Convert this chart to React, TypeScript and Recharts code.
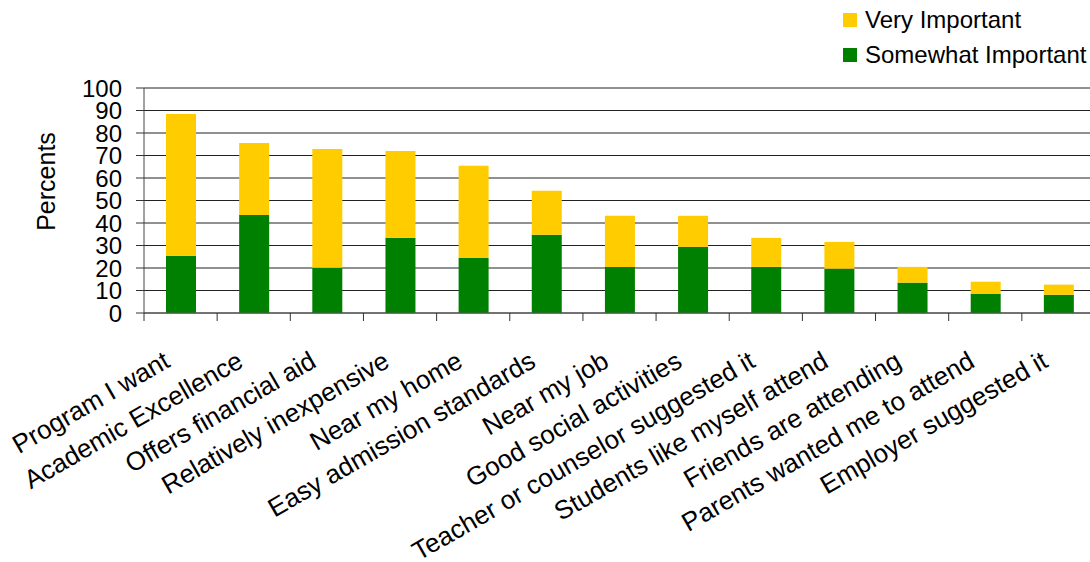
import React from 'react';
import { BarChart, Bar, XAxis, YAxis, CartesianGrid, Legend, Label } from 'recharts';

const FONT = '"Liberation Sans", Arial, sans-serif';

const categories = [
  'Program I want',
  'Academic Excellence',
  'Offers financial aid',
  'Relatively inexpensive',
  'Near my home',
  'Easy admission standards',
  'Near my job',
  'Good social activities',
  'Teacher or counselor suggested it',
  'Students like myself attend',
  'Friends are attending',
  'Parents wanted me to attend',
  'Employer suggested it',
];

const somewhatImportant = [25.4, 43.6, 20.1, 33.4, 24.5, 34.8, 20.5, 29.4, 20.5, 19.7, 13.5, 8.6, 8.1];
const veryImportant = [63.1, 32.0, 52.8, 38.6, 40.9, 19.5, 22.7, 13.8, 12.9, 11.9, 7.0, 5.3, 4.5];

const yTicks = [0, 10, 20, 30, 40, 50, 60, 70, 80, 90, 100];

const data = categories.map((name, i) => ({
  name,
  somewhat: somewhatImportant[i],
  very: veryImportant[i],
}));

const XTick = (props: any) => {
  const { x, y, payload, index } = props;
  const half = payload && payload.offset ? payload.offset : 0;
  return (
    <g>
      <line x1={x - half} x2={x - half} y1={y - 8} y2={y} stroke="#333" strokeWidth={1} />
      {index === categories.length - 1 && (
        <line x1={x + half} x2={x + half} y1={y - 8} y2={y} stroke="#333" strokeWidth={1} />
      )}
      <g transform={`translate(${x - 9},${y + 45})`}>
        <text textAnchor="end" transform="rotate(-30)" fontSize={26} fontFamily={FONT} fill="#000">
          {payload.value}
        </text>
      </g>
    </g>
  );
};

const YLabel = (props: any) => {
  const { viewBox } = props;
  const cx = viewBox.x + 46;
  const cy = viewBox.y + viewBox.height / 2 - 19;
  return (
    <text
      x={cx}
      y={cy}
      transform={`rotate(-90, ${cx}, ${cy})`}
      textAnchor="middle"
      dy="0.355em"
      fontSize={25}
      fontFamily={FONT}
      fill="#000"
    >
      Percents
    </text>
  );
};

const renderLegend = (props: any) => {
  const payload = [...(props.payload || [])].reverse();
  return (
    <div>
      {payload.map((p: any) => (
        <div key={p.value} style={{ display: 'flex', alignItems: 'center', height: 35 }}>
          <span
            style={{ display: 'inline-block', width: 14, height: 14, background: p.color, marginRight: 8 }}
          />
          <span style={{ fontSize: 24, fontFamily: FONT, color: '#000', lineHeight: '35px' }}>{p.value}</span>
        </div>
      ))}
    </div>
  );
};

export default function App() {
  return (
    <div
      style={{
        position: 'absolute',
        left: 0,
        top: 0,
        width: 1090,
        height: 562,
        overflow: 'hidden',
        background: '#fff',
      }}
    >
      <BarChart
        width={1100}
        height={562}
        data={data}
        margin={{ top: 88, right: 5, bottom: 49, left: 0 }}
        barSize={30}
      >
        <CartesianGrid vertical={false} stroke="#222" strokeWidth={1} />
        <XAxis
          dataKey="name"
          height={200}
          interval={0}
          tickLine={false}
          axisLine={{ stroke: '#555' }}
          tick={<XTick />}
        />
        <YAxis
          width={144}
          domain={[0, 100]}
          ticks={yTicks}
          interval={0}
          tickSize={8}
          tickMargin={14}
          axisLine={{ stroke: '#444' }}
          tickLine={{ stroke: '#333' }}
          tick={{ fontSize: 24, fontFamily: FONT, fill: '#000' }}
        >
          <Label content={<YLabel />} />
        </YAxis>
        <Legend
          layout="vertical"
          align="center"
          verticalAlign="middle"
          wrapperStyle={{ left: 843, top: 2, width: 250 }}
          content={renderLegend}
        />
        <Bar dataKey="somewhat" name="Somewhat Important" stackId="a" fill="#008000" isAnimationActive={false} />
        <Bar dataKey="very" name="Very Important" stackId="a" fill="#FFCC00" isAnimationActive={false} />
      </BarChart>
    </div>
  );
}
